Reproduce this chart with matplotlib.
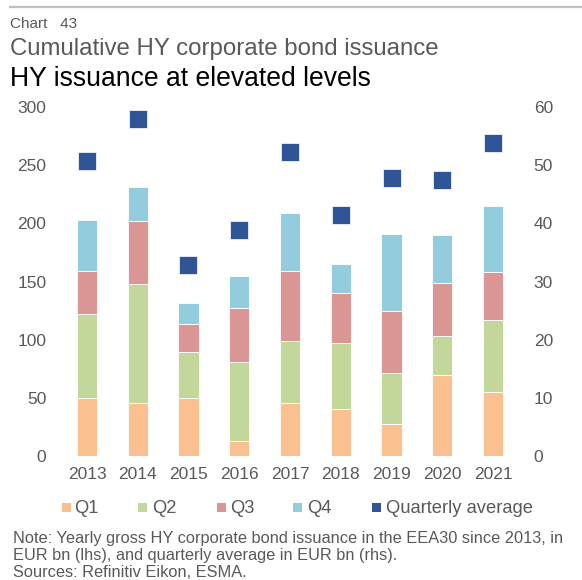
import matplotlib
matplotlib.use("Agg")
import matplotlib.pyplot as plt
import numpy as np
from matplotlib.lines import Line2D
from matplotlib.patches import Rectangle

plt.rcParams['font.family'] = ['Liberation Sans', 'DejaVu Sans']

years = ["2013", "2014", "2015", "2016", "2017", "2018", "2019", "2020", "2021"]
q1 = [50.2, 45.3, 49.6, 12.6, 45.9, 40.4, 27.2, 69.4, 55.1]
q2 = [71.7, 102.7, 39.9, 68.3, 53.3, 57.1, 43.9, 33.8, 61.9]
q3 = [36.7, 53.6, 24.3, 45.9, 60.2, 43.0, 53.6, 45.1, 41.0]
q4 = [44.4, 29.8, 17.5, 28.3, 49.1, 24.7, 66.0, 41.3, 56.5]
quarterly_avg = [50.8, 58.0, 32.9, 38.8, 52.2, 41.4, 47.8, 47.4, 53.8]

series_names = ["Q1", "Q2", "Q3", "Q4"]
avg_name = "Quarterly average"
colors = ["#FAC090", "#C4D79B", "#DA9694", "#93CDDD"]
avg_color = "#2F5597"
grey = "#595959"

W, H = 582, 580
fig = plt.figure(figsize=(W / 100, H / 100), dpi=100)
ax = fig.add_axes([0.1058, 0.2138, 0.785, 0.6017])
ax2 = ax.twinx()

def fx(px):
    return px / W

def fy(py):
    return 1 - py / H

x = np.arange(len(years))
bottom = np.zeros(len(years))
for vals, c in zip([q1, q2, q3, q4], colors):
    ax.bar(x, vals, width=0.4, bottom=bottom, color=c, edgecolor="white", linewidth=0.6, zorder=2)
    bottom += np.array(vals)

ax2.plot(x, quarterly_avg, linestyle="none", marker="s", markersize=13,
         color=avg_color, markeredgecolor="white", markeredgewidth=0.5, zorder=3)

ax.set_xlim(-0.5, len(years) - 0.5)
ax.set_ylim(0, 300)
ax2.set_ylim(0, 60)
ax.set_yticks(np.arange(0, 301, 50))
ax2.set_yticks(np.arange(0, 61, 10))
ax.set_xticks(x)
ax.set_xticklabels(years)

for a in (ax, ax2):
    for s in a.spines.values():
        s.set_visible(False)
    a.tick_params(length=0, labelsize=12.5, colors=grey)
ax.tick_params(axis="y", pad=11)
ax2.tick_params(axis="y", pad=11)
ax.tick_params(axis="x", pad=8)

# manual legend (positions in pixels)
sq_x = [62, 138, 217, 293, 372]
txt_x = [74, 152, 230, 307, 386]
all_colors = colors + [avg_color]
all_names = series_names + [avg_name]
for sx, tx, c, n in zip(sq_x, txt_x, all_colors, all_names):
    fig.add_artist(Rectangle((fx(sx), fy(512)), 9 / W, 9 / H, facecolor=c, edgecolor="none",
                             transform=fig.transFigure))
    fig.text(fx(tx), fy(513), n, fontsize=13.2, color=grey, va="baseline", ha="left")

# titles
fig.add_artist(Line2D([fx(10), 1.0], [fy(7), fy(7)], color="#BFBFBF", linewidth=1.6,
                      transform=fig.transFigure))
fig.text(fx(10), fy(28), "Chart   43", fontsize=11, color=grey, va="baseline", ha="left")
fig.text(fx(10), fy(55), "Cumulative HY corporate bond issuance", fontsize=17.3, color=grey,
         va="baseline", ha="left")
fig.text(fx(10), fy(86), "HY issuance at elevated levels", fontsize=19.1, color="black",
         va="baseline", ha="left")

notes = ["Note: Yearly gross HY corporate bond issuance in the EEA30 since 2013, in",
         "EUR bn (lhs), and quarterly average in EUR bn (rhs).",
         "Sources: Refinitiv Eikon, ESMA."]
for line, by in zip(notes, [543, 560, 577]):
    fig.text(fx(13), fy(by), line, fontsize=11.75, color=grey, va="baseline", ha="left")

fig.savefig("out.png", dpi=100)
